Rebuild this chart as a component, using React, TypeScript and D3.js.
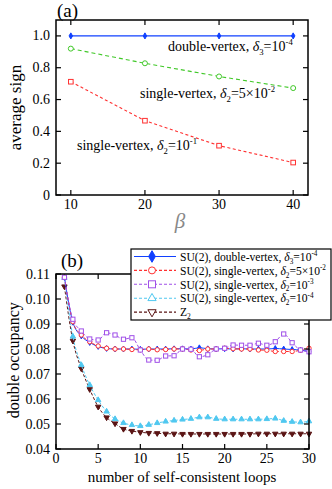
import React from 'react'
import * as d3 from 'd3'

// (a) average sign vs beta
const betas = [10, 20, 30, 40]
const signDouble = [1.0, 1.0, 1.0, 1.0]
const signSingle5e2 = [0.92, 0.828, 0.745, 0.672]
const signSingle1e1 = [0.712, 0.467, 0.31, 0.204]
const signYTicks = [0, 0.2, 0.4, 0.6, 0.8, 1.0]

// (b) double occupancy vs loop count
const loops = [1, 2, 3, 4, 5, 6, 7, 8, 9, 10, 11, 12, 13, 14, 15, 16, 17, 18, 19, 20, 21, 22, 23, 24, 25, 26, 27, 28, 29, 30]
const occDouble = [0.1087, 0.0907, 0.0852, 0.0826, 0.081, 0.0802, 0.08, 0.08, 0.08, 0.0799, 0.08, 0.08, 0.08, 0.0801, 0.0801, 0.08, 0.0805, 0.0801, 0.08, 0.0801, 0.08, 0.0801, 0.08, 0.08, 0.08, 0.0802, 0.08, 0.0798, 0.0796, 0.079]
const occSingle5e2 = [0.1087, 0.0909, 0.0856, 0.0829, 0.0812, 0.0803, 0.08, 0.08, 0.0798, 0.0797, 0.08, 0.0797, 0.0798, 0.08, 0.08, 0.0796, 0.0794, 0.08, 0.08, 0.0803, 0.0801, 0.08, 0.08, 0.0796, 0.0795, 0.079, 0.079, 0.079, 0.0795, 0.0803]
const occSingle1e3 = [0.1087, 0.0919, 0.0872, 0.084, 0.0836, 0.0865, 0.0856, 0.0839, 0.0845, 0.0796, 0.0756, 0.0755, 0.0772, 0.0773, 0.08, 0.0799, 0.0769, 0.0777, 0.08, 0.0803, 0.0816, 0.0815, 0.0815, 0.0823, 0.0815, 0.0829, 0.086, 0.0825, 0.0796, 0.0789]
const occSingle1e4 = [0.1085, 0.085, 0.0736, 0.0656, 0.0596, 0.055, 0.052, 0.0504, 0.0496, 0.0492, 0.0497, 0.0504, 0.051, 0.0514, 0.0518, 0.0521, 0.0527, 0.0527, 0.0521, 0.0519, 0.0519, 0.0519, 0.0519, 0.0519, 0.052, 0.0522, 0.0513, 0.0509, 0.0507, 0.0511]
const occZ2 = [0.105, 0.0833, 0.0722, 0.0639, 0.0569, 0.0526, 0.0502, 0.048, 0.0472, 0.0467, 0.0464, 0.0463, 0.0461, 0.0461, 0.046, 0.046, 0.046, 0.046, 0.046, 0.046, 0.046, 0.046, 0.046, 0.0461, 0.0461, 0.0461, 0.0461, 0.0461, 0.0461, 0.0461]
const occXTicks = [0, 5, 10, 15, 20, 25, 30]
const occYTicks = [0.04, 0.05, 0.06, 0.07, 0.08, 0.09, 0.1, 0.11]

const FONT = '"Liberation Serif", "DejaVu Serif", serif'
const BLUE = '#1040ff'
const RED = '#ff3030'
const GREEN = '#40c828'
const PURPLE = '#a050e8'
const CYAN = '#50c8f0'
const BROWN = '#5a1414'

type Marker = 'diamond' | 'circle' | 'square' | 'triangle' | 'down'

const Mark = ({ type, x, y, s, color, fill }: { type: Marker; x: number; y: number; s: number; color: string; fill: boolean }) => {
  const f = fill ? color : 'white'
  if (type === 'circle') return <circle cx={x} cy={y} r={s} fill={f} stroke={color} strokeWidth={1} />
  if (type === 'square') return <rect x={x - s} y={y - s} width={2 * s} height={2 * s} fill={f} stroke={color} strokeWidth={1} />
  let sym = d3.symbolDiamond
  let rot = 0
  if (type === 'triangle') sym = d3.symbolTriangle
  if (type === 'down') { sym = d3.symbolTriangle; rot = 180 }
  const area = type === 'diamond' ? s * s * 2.2 : s * s * 2.4
  const p = d3.symbol().type(sym).size(area)() || ''
  return <path d={p} transform={`translate(${x},${y}) rotate(${rot})`} fill={f} stroke={color} strokeWidth={1} />
}

// label of the form  prefix δ_sub = mant 10^exp
const Delta = ({ x, y, size, prefix, sub, mant, exp }: { x: number; y: number; size: number; prefix: string; sub: string; mant: string; exp: string }) => (
  <text x={x} y={y} fontSize={size} fontFamily={FONT}>
    {prefix}
    <tspan fontStyle="italic">δ</tspan>
    <tspan fontSize={size * 0.62} dy={size * 0.25}>{sub}</tspan>
    <tspan dy={-size * 0.25}>{'='}{mant}10</tspan>
    <tspan fontSize={size * 0.62} dy={-size * 0.4}>{exp}</tspan>
  </text>
)

const App = () => {
  // panel (a)
  const xa = d3.scaleLinear().domain([8, 42]).range([56, 308])
  const ya = d3.scaleLinear().domain([0, 1.1]).range([195, 20])
  // panel (b)
  const xb = d3.scaleLinear().domain([0, 30]).range([56, 309])
  const yb = d3.scaleLinear().domain([0.04, 0.11]).range([449, 274])

  const lineA = d3.line<number>().x((_, i) => xa(betas[i])).y(d => ya(d))
  const lineB = d3.line<number>().x((_, i) => xb(loops[i])).y(d => yb(d)).curve(d3.curveMonotoneX)

  const seriesA = [
    { vals: signDouble, color: BLUE, dash: '', marker: 'diamond' as Marker, s: 2.2, fill: true },
    { vals: signSingle5e2, color: GREEN, dash: '4,3', marker: 'circle' as Marker, s: 2.5, fill: false },
    { vals: signSingle1e1, color: RED, dash: '3,2.5', marker: 'square' as Marker, s: 2.3, fill: false },
  ]

  const seriesB = [
    { vals: occZ2, color: BROWN, dash: '3,2', marker: 'down' as Marker, s: 2.3, fill: true },
    { vals: occSingle1e4, color: CYAN, dash: '3,2', marker: 'triangle' as Marker, s: 2.3, fill: true },
    { vals: occDouble, color: BLUE, dash: '', marker: 'diamond' as Marker, s: 2.1, fill: true },
    { vals: occSingle5e2, color: RED, dash: '3,2', marker: 'circle' as Marker, s: 2.2, fill: false },
    { vals: occSingle1e3, color: PURPLE, dash: '3,2', marker: 'square' as Marker, s: 2.1, fill: false },
  ]

  const legend = [
    { color: BLUE, dash: '', marker: 'diamond' as Marker, fill: true, prefix: 'SU(2), double-vertex, ', sub: '3', mant: '', exp: '-4' },
    { color: RED, dash: '3,2', marker: 'circle' as Marker, fill: false, prefix: 'SU(2), single-vertex, ', sub: '2', mant: '5×', exp: '-2' },
    { color: PURPLE, dash: '3,2', marker: 'square' as Marker, fill: false, prefix: 'SU(2), single-vertex, ', sub: '2', mant: '', exp: '-3' },
    { color: CYAN, dash: '3,2', marker: 'triangle' as Marker, fill: false, prefix: 'SU(2), single-vertex, ', sub: '2', mant: '', exp: '-4' },
    { color: BROWN, dash: '3,2', marker: 'down' as Marker, fill: false, prefix: 'Z', sub: '2', mant: '', exp: '' },
  ]

  const [a0, a1] = xa.range()
  const [b0, b1] = xb.range()

  return (
    <svg width={332} height={489} style={{ position: 'absolute', left: 0, top: 0, background: 'white' }}>
      {/* ---------- panel (a) ---------- */}
      <text x={57} y={17} fontSize={19} fontFamily={FONT}>(a)</text>
      {seriesA.map((s, k) => (
        <g key={k}>
          <path d={lineA(s.vals) || ''} fill="none" stroke={s.color} strokeWidth={1.1} strokeDasharray={s.dash} />
          {s.vals.map((v, i) => <Mark key={i} type={s.marker} x={xa(betas[i])} y={ya(v)} s={s.s} color={s.color} fill={s.fill} />)}
        </g>
      ))}
      <rect x={a0} y={ya(1.1)} width={a1 - a0} height={ya(0) - ya(1.1)} fill="none" stroke="black" strokeWidth={1.5} />
      {betas.map(b => (
        <g key={b}>
          <line x1={xa(b)} x2={xa(b)} y1={ya(0)} y2={ya(0) - 5} stroke="black" strokeWidth={1.2} />
          <line x1={xa(b)} x2={xa(b)} y1={ya(1.1)} y2={ya(1.1) + 5} stroke="black" strokeWidth={1.2} />
          <text x={xa(b)} y={209} fontSize={14} fontFamily={FONT} textAnchor="middle">{b}</text>
        </g>
      ))}
      {signYTicks.map(t => (
        <g key={t}>
          <line x1={a0} x2={a0 + 5} y1={ya(t)} y2={ya(t)} stroke="black" strokeWidth={1.2} />
          <line x1={a1} x2={a1 - 5} y1={ya(t)} y2={ya(t)} stroke="black" strokeWidth={1.2} />
          <text x={50} y={ya(t) + 4.5} fontSize={14} fontFamily={FONT} textAnchor="end">{t === 0 ? '0' : d3.format('.1f')(t)}</text>
        </g>
      ))}
      <Delta x={168} y={51} size={14} prefix="double-vertex, " sub="3" mant="" exp="-4" />
      <Delta x={140} y={98} size={14} prefix="single-vertex, " sub="2" mant="5×" exp="-2" />
      <Delta x={77} y={150} size={14} prefix="single-vertex, " sub="2" mant="" exp="-1" />
      <text transform={`translate(21,${ya(0.55)}) rotate(-90)`} fontSize={17} fontFamily={FONT} textAnchor="middle">average sign</text>
      <text x={180} y={228} fontSize={21} fontFamily={FONT} fontStyle="italic" fill="#888" textAnchor="middle">β</text>

      {/* ---------- panel (b) ---------- */}
      <text x={61} y={267} fontSize={19} fontFamily={FONT}>(b)</text>
      {seriesB.map((s, k) => (
        <g key={k}>
          <path d={lineB(s.vals) || ''} fill="none" stroke={s.color} strokeWidth={1} strokeDasharray={s.dash} />
          {s.vals.map((v, i) => <Mark key={i} type={s.marker} x={xb(loops[i])} y={yb(v)} s={s.s} color={s.color} fill={s.fill} />)}
        </g>
      ))}
      <rect x={b0} y={yb(0.11)} width={b1 - b0} height={yb(0.04) - yb(0.11)} fill="none" stroke="black" strokeWidth={1.5} />
      {occXTicks.map(t => (
        <g key={t}>
          <line x1={xb(t)} x2={xb(t)} y1={yb(0.04)} y2={yb(0.04) - 5} stroke="black" strokeWidth={1.2} />
          <line x1={xb(t)} x2={xb(t)} y1={yb(0.11)} y2={yb(0.11) + 5} stroke="black" strokeWidth={1.2} />
          <text x={xb(t)} y={463} fontSize={14} fontFamily={FONT} textAnchor="middle">{t}</text>
        </g>
      ))}
      {occYTicks.map(t => (
        <g key={t}>
          <line x1={b0} x2={b0 + 5} y1={yb(t)} y2={yb(t)} stroke="black" strokeWidth={1.2} />
          <line x1={b1} x2={b1 - 5} y1={yb(t)} y2={yb(t)} stroke="black" strokeWidth={1.2} />
          <text x={50} y={yb(t) + 4.5} fontSize={14} fontFamily={FONT} textAnchor="end">{d3.format('.2f')(t)}</text>
        </g>
      ))}
      <text transform={`translate(19,${yb(0.0755)}) rotate(-90)`} fontSize={16} fontFamily={FONT} textAnchor="middle">double occupancy</text>
      <text x={182} y={482} fontSize={15} fontFamily={FONT} textAnchor="middle">number of self-consistent loops</text>

      {/* legend */}
      <rect x={131} y={249} width={200} height={71} fill="white" stroke="black" strokeWidth={1.2} />
      {legend.map((l, i) => {
        const y = 256.5 + i * 13.9
        return (
          <g key={i}>
            <line x1={134} x2={176} y1={y} y2={y} stroke={l.color} strokeWidth={1.1} strokeDasharray={l.dash} />
            <Mark type={l.marker} x={152} y={y} s={l.marker === 'diamond' ? 4.2 : 3.5} color={l.color} fill={l.fill} />
            {l.exp ? (
              <Delta x={180} y={y + 4.2} size={11.6} prefix={l.prefix} sub={l.sub} mant={l.mant} exp={l.exp} />
            ) : (
              <text x={180} y={y + 4.2} fontSize={11.6} fontFamily={FONT}>
                {l.prefix}<tspan fontSize={7.5} dy={3}>{l.sub}</tspan>
              </text>
            )}
          </g>
        )
      })}
    </svg>
  )
}

export default App
